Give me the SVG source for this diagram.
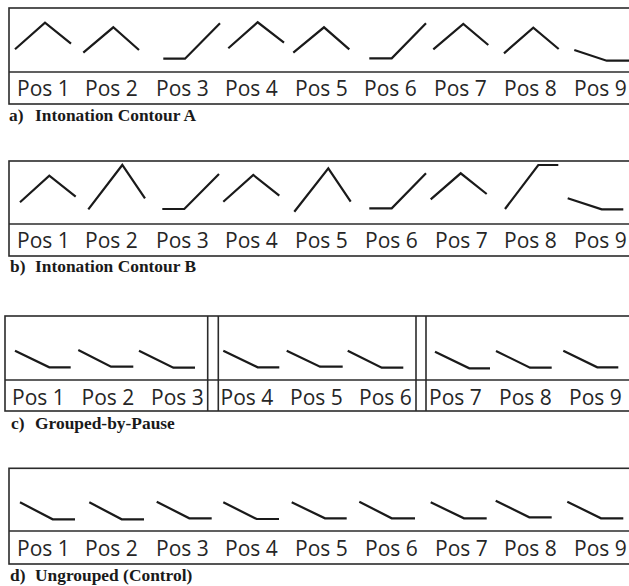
<svg xmlns="http://www.w3.org/2000/svg" width="629" height="586" viewBox="0 0 629 586">
<style>
.box{fill:none;stroke:#2b2b2b;stroke-width:1.6}
.c{fill:none;stroke:#1a1a1a;stroke-width:2.2;stroke-linejoin:miter;stroke-linecap:butt}
.pos{font-family:"Open Sans","Liberation Sans",sans-serif;font-size:21px;fill:#262626}
.cap{font-family:"Liberation Serif","Times New Roman",serif;font-weight:bold;font-size:17.4px;fill:#1a1a1a}
</style>
<rect width="629" height="586" fill="#ffffff"/>

<g id="panel-a">
  <rect class="box" x="9" y="8" width="630" height="96"/>
  <line class="box" x1="9" y1="72" x2="639" y2="72"/>
  <polyline class="c" points="15,49.3 45,22.7 71,43.7"/>
  <polyline class="c" points="83.3,52.7 113.3,27.3 139,50"/>
  <polyline class="c" points="163.3,58.7 185,58.7 220,23.3"/>
  <polyline class="c" points="228.3,48.3 257.7,22.3 284,42.7"/>
  <polyline class="c" points="293.3,52.7 324,27.3 349.3,49.3"/>
  <polyline class="c" points="369.3,58.3 391.7,58.3 426,23.3"/>
  <polyline class="c" points="433.3,49.3 463.3,24 488.3,45"/>
  <polyline class="c" points="504,53.3 533.3,27.7 558.7,49"/>
  <polyline class="c" points="574.3,50 606.7,60.7 629,60.7"/>
  <text class="pos" y="96"><tspan x="17">Pos 1</tspan><tspan x="85">Pos 2</tspan><tspan x="156">Pos 3</tspan><tspan x="225">Pos 4</tspan><tspan x="295">Pos 5</tspan><tspan x="364">Pos 6</tspan><tspan x="434">Pos 7</tspan><tspan x="504">Pos 8</tspan><tspan x="574">Pos 9</tspan></text>
  <text class="cap" y="120.5"><tspan x="9">a)</tspan><tspan x="35">Intonation Contour A</tspan></text>
</g>

<g id="panel-b">
  <rect class="box" x="9" y="161" width="630" height="95"/>
  <line class="box" x1="9" y1="224" x2="639" y2="224"/>
  <polyline class="c" points="20,202.3 49.3,175.7 75.7,196.7"/>
  <polyline class="c" points="88.3,209.3 122.3,165 145,198.3"/>
  <polyline class="c" points="162.3,209 184.3,209 219,174"/>
  <polyline class="c" points="223.3,201.7 253.3,175 279.3,195.7"/>
  <polyline class="c" points="294.3,211.7 328.3,168.3 350.7,201.7"/>
  <polyline class="c" points="369.3,208.3 391.7,208.3 426,173.3"/>
  <polyline class="c" points="430.7,199.3 460.7,173.3 486.7,194"/>
  <polyline class="c" points="505,209 538.3,165 558.3,165"/>
  <polyline class="c" points="567.7,198.3 601.7,209.3 623.3,209.3"/>
  <text class="pos" y="247.5"><tspan x="17">Pos 1</tspan><tspan x="85">Pos 2</tspan><tspan x="156">Pos 3</tspan><tspan x="225">Pos 4</tspan><tspan x="295">Pos 5</tspan><tspan x="365">Pos 6</tspan><tspan x="435">Pos 7</tspan><tspan x="504">Pos 8</tspan><tspan x="574">Pos 9</tspan></text>
  <text class="cap" y="272"><tspan x="10">b)</tspan><tspan x="35">Intonation Contour B</tspan></text>
</g>

<g id="panel-c">
  <rect class="box" x="5" y="316" width="634" height="95"/>
  <line class="box" x1="5" y1="380" x2="639" y2="380"/>
  <line class="box" x1="207.7" y1="316" x2="207.7" y2="411"/>
  <line class="box" x1="218.3" y1="316" x2="218.3" y2="411"/>
  <line class="box" x1="416" y1="316" x2="416" y2="411"/>
  <line class="box" x1="426" y1="316" x2="426" y2="411"/>
  <polyline class="c" points="15,350.7 49.3,367.3 70.7,367.3"/>
  <polyline class="c" points="78.3,350 111,366.7 133.3,366.7"/>
  <polyline class="c" points="139,350.7 173.3,367.7 195,367.7"/>
  <polyline class="c" points="223.3,350.7 257.7,367.3 279.3,367.3"/>
  <polyline class="c" points="286.7,350.7 320,366.7 342.7,366.7"/>
  <polyline class="c" points="347.7,350.7 381.7,367.7 403.3,367.7"/>
  <polyline class="c" points="435,351.7 469.3,368.3 490,368.3"/>
  <polyline class="c" points="496,351 530,367.7 551.7,367.7"/>
  <polyline class="c" points="563.3,350.7 597.3,367.3 618.3,367.3"/>
  <text class="pos" y="405"><tspan x="12">Pos 1</tspan><tspan x="81.5">Pos 2</tspan><tspan x="151">Pos 3</tspan><tspan x="220.5">Pos 4</tspan><tspan x="290">Pos 5</tspan><tspan x="359">Pos 6</tspan><tspan x="429">Pos 7</tspan><tspan x="499">Pos 8</tspan><tspan x="569">Pos 9</tspan></text>
  <text class="cap" y="429"><tspan x="11">c)</tspan><tspan x="35">Grouped-by-Pause</tspan></text>
</g>

<g id="panel-d">
  <rect class="box" x="9" y="468.3" width="630" height="95.7"/>
  <line class="box" x1="9" y1="531" x2="639" y2="531"/>
  <polyline class="c" points="20,502.3 52.7,519.3 75,519.3"/>
  <polyline class="c" points="89.3,502.3 121.7,519.3 144,519.3"/>
  <polyline class="c" points="156.7,501.7 189.3,518.3 211.7,518.3"/>
  <polyline class="c" points="223.3,502.3 256.7,519 279,519"/>
  <polyline class="c" points="291.7,502.3 325,518.3 346.7,518.3"/>
  <polyline class="c" points="359.3,501.7 391.7,518.3 415,518.3"/>
  <polyline class="c" points="430.7,502.3 464,518.3 486.7,518.3"/>
  <polyline class="c" points="495.7,500.7 529.3,517.3 551.7,517.3"/>
  <polyline class="c" points="567.3,501.7 601,518.3 623.3,518.3"/>
  <text class="pos" y="556"><tspan x="17">Pos 1</tspan><tspan x="85">Pos 2</tspan><tspan x="156">Pos 3</tspan><tspan x="225">Pos 4</tspan><tspan x="295">Pos 5</tspan><tspan x="365">Pos 6</tspan><tspan x="435">Pos 7</tspan><tspan x="504">Pos 8</tspan><tspan x="574">Pos 9</tspan></text>
  <text class="cap" y="581"><tspan x="10">d)</tspan><tspan x="35">Ungrouped (Control)</tspan></text>
</g>
</svg>
